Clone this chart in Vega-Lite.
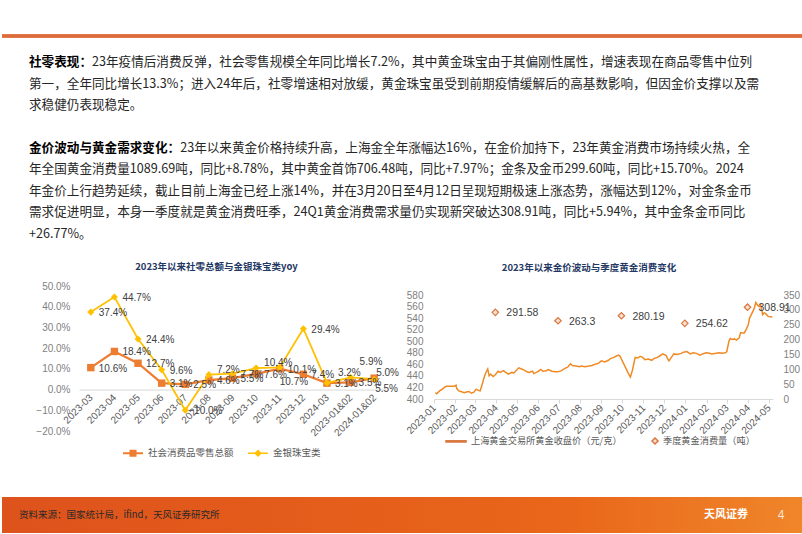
{
  "$schema": "https://vega.github.io/schema/vega-lite/v6.json",
  "background": "white",
  "padding": 0,
  "bounds": "flush",
  "spacing": 0,
  "config": {"view": {"stroke": null}, "font": "Noto Sans CJK SC"},
  "vconcat": [
    {
      "width": 802,
      "height": 286,
      "data": {"values": [
        {"line": 0, "lead": "社零表现：", "body": "23年疫情后消费反弹，社会零售规模全年同比增长7.2%，其中黄金珠宝由于其偏刚性属性，增速表现在商品零售中位列"},
        {"line": 1, "lead": "", "body": "第一，全年同比增长13.3%；进入24年后，社零增速相对放缓，黄金珠宝虽受到前期疫情缓解后的高基数影响，但因金价支撑以及需"},
        {"line": 2, "lead": "", "body": "求稳健仍表现稳定。"},
        {"line": 4, "lead": "金价波动与黄金需求变化：", "body": "23年以来黄金价格持续升高，上海金全年涨幅达16%，在金价加持下，23年黄金消费市场持续火热，全"},
        {"line": 5, "lead": "", "body": "年全国黄金消费量1089.69吨，同比+8.78%，其中黄金首饰706.48吨，同比+7.97%；金条及金币299.60吨，同比+15.70%。2024"},
        {"line": 6, "lead": "", "body": "年金价上行趋势延续，截止目前上海金已经上涨14%，并在3月20日至4月12日呈现短期极速上涨态势，涨幅达到12%，对金条金币"},
        {"line": 7, "lead": "", "body": "需求促进明显，本身一季度就是黄金消费旺季，24Q1黄金消费需求量仍实现新突破达308.91吨，同比+5.94%，其中金条金币同比"},
        {"line": 8, "lead": "", "body": "+26.77%。"}
      ]},
      "encoding": {
        "x": {"datum": 0, "type": "quantitative", "scale": {"domain": [0, 1]}, "axis": null},
        "y": {"field": "line", "type": "quantitative", "scale": {"domain": [-2.884, 10.419], "reverse": true, "nice": false, "zero": false}, "axis": null}
      },
      "layer": [
        {
          "mark": {"type": "rule", "color": "#DD6B3B", "strokeWidth": 2.5},
          "encoding": {
            "x": null,
            "y": {"datum": -1.21, "type": "quantitative", "scale": {"domain": [-2.884, 10.419], "reverse": true, "nice": false, "zero": false}, "axis": null}
          }
        },
        {
          "transform": [{"filter": "datum.lead == ''"}],
          "mark": {"type": "text", "align": "left", "baseline": "middle", "font": "Noto Sans CJK SC", "fontSize": 12.6, "color": "#262626", "dx": 27},
          "encoding": {"text": {"field": "body"}}
        },
        {
          "transform": [{"filter": "datum.line == 0"}],
          "mark": {"type": "text", "align": "left", "baseline": "middle", "font": "Noto Sans CJK SC", "fontSize": 12.6, "color": "#262626", "dx": 90},
          "encoding": {"text": {"field": "body"}}
        },
        {
          "transform": [{"filter": "datum.line == 4"}],
          "mark": {"type": "text", "align": "left", "baseline": "middle", "font": "Noto Sans CJK SC", "fontSize": 12.6, "color": "#262626", "dx": 178.2},
          "encoding": {"text": {"field": "body"}}
        },
        {
          "transform": [{"filter": "datum.lead != ''"}],
          "mark": {"type": "text", "align": "left", "baseline": "middle", "font": "Noto Sans CJK SC", "fontSize": 12.6, "fontWeight": "bold", "color": "#000000", "dx": 27},
          "encoding": {"text": {"field": "lead"}}
        }
      ]
    },
    {
      "hconcat": [
        {"width": 77, "height": 194, "data": {"values": []}, "mark": "text"},
        {
          "width": 307,
          "height": 145,
          "title": {"text": "2023年以来社零总额与金银珠宝类yoy", "font": "Noto Sans CJK SC", "fontSize": 9.5, "fontWeight": "bold", "color": "#1F3864", "anchor": "middle", "frame": "group", "dx": -16, "offset": 10},
          "data": {"values": [
            {"month": "2023-03", "series": "社会消费品零售总额", "value": 10.6},
            {"month": "2023-04", "series": "社会消费品零售总额", "value": 18.4},
            {"month": "2023-05", "series": "社会消费品零售总额", "value": 12.7},
            {"month": "2023-06", "series": "社会消费品零售总额", "value": 3.1},
            {"month": "2023-07", "series": "社会消费品零售总额", "value": 2.5},
            {"month": "2023-08", "series": "社会消费品零售总额", "value": 4.6},
            {"month": "2023-09", "series": "社会消费品零售总额", "value": 5.5},
            {"month": "2023-10", "series": "社会消费品零售总额", "value": 7.6},
            {"month": "2023-11", "series": "社会消费品零售总额", "value": 10.1},
            {"month": "2023-12", "series": "社会消费品零售总额", "value": 7.4},
            {"month": "2024-03", "series": "社会消费品零售总额", "value": 3.1},
            {"month": "2023-01&02", "series": "社会消费品零售总额", "value": 3.5},
            {"month": "2024-01&02", "series": "社会消费品零售总额", "value": 5.5},
            {"month": "2023-03", "series": "金银珠宝类", "value": 37.4},
            {"month": "2023-04", "series": "金银珠宝类", "value": 44.7},
            {"month": "2023-05", "series": "金银珠宝类", "value": 24.4},
            {"month": "2023-06", "series": "金银珠宝类", "value": 9.6},
            {"month": "2023-07", "series": "金银珠宝类", "value": -10.0},
            {"month": "2023-08", "series": "金银珠宝类", "value": 7.2},
            {"month": "2023-09", "series": "金银珠宝类", "value": 7.7},
            {"month": "2023-10", "series": "金银珠宝类", "value": 10.4},
            {"month": "2023-11", "series": "金银珠宝类", "value": 10.7},
            {"month": "2023-12", "series": "金银珠宝类", "value": 29.4},
            {"month": "2024-03", "series": "金银珠宝类", "value": 3.2},
            {"month": "2023-01&02", "series": "金银珠宝类", "value": 5.9},
            {"month": "2024-01&02", "series": "金银珠宝类", "value": 5.0}
          ]},
          "transform": [{"calculate": "format(datum.value, '.1f') + '%'", "as": "label"}],
          "encoding": {
            "x": {
              "field": "month", "type": "ordinal",
              "sort": ["2023-03","2023-04","2023-05","2023-06","2023-07","2023-08","2023-09","2023-10","2023-11","2023-12","2024-03","2023-01&02","2024-01&02"],
              "scale": {"type": "point", "padding": 0.5},
              "axis": {"title": null, "offset": -41.43, "labelAngle": -45, "labelAlign": "right", "labelBaseline": "middle", "labelPadding": 6, "ticks": false, "domainColor": "#d9d9d9", "domainWidth": 1, "labelColor": "#595959", "labelFont": "Liberation Sans", "labelFontSize": 10, "grid": false}
            },
            "y": {
              "field": "value", "type": "quantitative",
              "scale": {"domain": [-20, 50], "nice": false, "zero": false},
              "axis": {"title": null, "values": [-20, -10, 0, 10, 20, 30, 40, 50], "labelExpr": "format(datum.value, '.1f') + '%'", "domain": false, "ticks": false, "grid": false, "labelPadding": 9, "labelColor": "#7f7f7f", "labelFont": "Liberation Sans", "labelFontSize": 10}
            }
          },
          "layer": [
            {
              "transform": [{"filter": "datum.series == '社会消费品零售总额'"}],
              "mark": {"type": "line", "color": "#ED7D31", "strokeWidth": 2.25}
            },
            {
              "transform": [{"filter": "datum.series == '社会消费品零售总额'"}],
              "mark": {"type": "square", "color": "#ED7D31", "size": 55, "opacity": 1}
            },
            {
              "transform": [{"filter": "datum.series == '金银珠宝类'"}],
              "mark": {"type": "line", "color": "#FFC000", "strokeWidth": 1.75}
            },
            {
              "transform": [{"filter": "datum.series == '金银珠宝类'"}],
              "mark": {"type": "point", "shape": "diamond", "filled": true, "color": "#FFC000", "size": 50, "opacity": 1}
            },
            {
              "transform": [{"filter": "false"}],
              "mark": {"type": "point", "filled": true, "opacity": 1},
              "encoding": {
                "color": {"field": "series", "type": "nominal", "scale": {"domain": ["社会消费品零售总额", "金银珠宝类"], "range": ["#ED7D31", "#FFC000"]},
                  "legend": {"orient": "none", "legendX": 43, "legendY": 156, "direction": "horizontal", "title": null, "labelFont": "Noto Sans CJK SC", "labelFontSize": 9.5, "labelColor": "#595959", "symbolSize": 400, "labelOffset": 4, "columnPadding": 13}},
                "shape": {"field": "series", "type": "nominal", "scale": {"domain": ["社会消费品零售总额", "金银珠宝类"], "range": ["M-1,-0.1H1V0.1H-1Z M-0.35,-0.35H0.35V0.35H-0.35Z", "M-1,-0.08H1V0.08H-1Z M0,-0.38L0.38,0L0,0.38L-0.38,0Z"]},
                  "legend": {"orient": "none", "legendX": 43, "legendY": 156, "direction": "horizontal", "title": null, "labelFont": "Noto Sans CJK SC", "labelFontSize": 9.5, "labelColor": "#595959", "symbolSize": 400, "labelOffset": 4, "columnPadding": 13}}
              }
            },
            {
              "transform": [{"filter": "datum.series == '社会消费品零售总额' && datum.month != '2024-01&02'"}],
              "mark": {"type": "text", "align": "left", "baseline": "middle", "dx": 8, "dy": 1, "font": "Liberation Sans", "fontSize": 10, "color": "#404040"},
              "encoding": {"text": {"field": "label"}}
            },
            {
              "transform": [{"filter": "datum.series == '社会消费品零售总额' && datum.month == '2024-01&02'"}],
              "mark": {"type": "text", "align": "left", "baseline": "middle", "dx": 1, "dy": 11, "font": "Liberation Sans", "fontSize": 10, "color": "#404040"},
              "encoding": {"text": {"field": "label"}}
            },
            {
              "transform": [{"filter": "datum.series == '金银珠宝类' && indexof(['2023-03','2023-04','2023-05','2023-06','2023-09','2023-12'], datum.month) >= 0"}],
              "mark": {"type": "text", "align": "left", "baseline": "middle", "dx": 8, "dy": 1, "font": "Liberation Sans", "fontSize": 10, "color": "#404040"},
              "encoding": {"text": {"field": "label"}}
            },
            {
              "transform": [{"filter": "datum.series == '金银珠宝类' && indexof(['2023-08','2023-10'], datum.month) >= 0"}],
              "mark": {"type": "text", "align": "left", "baseline": "middle", "dx": 8, "dy": -5, "font": "Liberation Sans", "fontSize": 10, "color": "#404040"},
              "encoding": {"text": {"field": "label"}}
            },
            {
              "transform": [{"filter": "datum.series == '金银珠宝类' && datum.month == '2023-07'"}],
              "mark": {"type": "text", "align": "left", "baseline": "middle", "dx": 3, "dy": 1, "font": "Liberation Sans", "fontSize": 10, "color": "#404040"},
              "encoding": {"text": {"field": "label"}}
            },
            {
              "transform": [{"filter": "datum.series == '金银珠宝类' && datum.month == '2023-11'"}],
              "mark": {"type": "text", "align": "left", "baseline": "middle", "dx": 0, "dy": 15, "font": "Liberation Sans", "fontSize": 10, "color": "#404040"},
              "encoding": {"text": {"field": "label"}}
            },
            {
              "transform": [{"filter": "datum.series == '金银珠宝类' && datum.month == '2024-03'"}],
              "mark": {"type": "text", "align": "left", "baseline": "middle", "dx": 11, "dy": -10, "font": "Liberation Sans", "fontSize": 10, "color": "#404040"},
              "encoding": {"text": {"field": "label"}}
            },
            {
              "transform": [{"filter": "datum.series == '金银珠宝类' && datum.month == '2023-01&02'"}],
              "mark": {"type": "text", "align": "left", "baseline": "middle", "dx": 9, "dy": -15, "font": "Liberation Sans", "fontSize": 10, "color": "#404040"},
              "encoding": {"text": {"field": "label"}}
            },
            {
              "transform": [{"filter": "datum.series == '金银珠宝类' && datum.month == '2024-01&02'"}],
              "mark": {"type": "text", "align": "left", "baseline": "middle", "dx": 2, "dy": -6, "font": "Liberation Sans", "fontSize": 10, "color": "#404040"},
              "encoding": {"text": {"field": "label"}}
            }
          ]
        },
        {"width": 48, "height": 10, "data": {"values": []}, "mark": "text"},
        {
          "vconcat": [
            {"width": 339, "height": 9, "data": {"values": []}, "mark": "text"},
            {
              "width": 339,
              "height": 104,
              "title": {"text": "2023年以来金价波动与季度黄金消费变化", "font": "Noto Sans CJK SC", "fontSize": 9.5, "fontWeight": "bold", "color": "#1F3864", "anchor": "middle", "frame": "group", "dx": -14.5, "offset": 18},
              "encoding": {
                "x": {
                  "field": "date", "type": "temporal",
                  "scale": {"domain": [{"year": 2023, "month": 1, "date": 1}, {"year": 2024, "month": 5, "date": 7}], "nice": false},
                  "axis": {"title": null, "format": "%Y-%m", "tickCount": {"interval": "month", "step": 1}, "labelAngle": -45, "labelAlign": "right", "labelBaseline": "middle", "labelPadding": 3, "tickSize": 4, "tickColor": "#d9d9d9", "domainColor": "#d9d9d9", "labelColor": "#595959", "labelFont": "Liberation Sans", "labelFontSize": 10, "grid": false, "labelOverlap": false, "labelFlush": false}
                }
              },
              "layer": [
                {
                  "data": {"values": [
                    {"date": "2023-01-03", "price": 411}, {"date": "2023-01-05", "price": 409}, {"date": "2023-01-09", "price": 414}, {"date": "2023-01-12", "price": 416},
                    {"date": "2023-01-16", "price": 420}, {"date": "2023-01-19", "price": 422}, {"date": "2023-01-30", "price": 422}, {"date": "2023-02-02", "price": 424},
                    {"date": "2023-02-03", "price": 418}, {"date": "2023-02-06", "price": 414}, {"date": "2023-02-09", "price": 413}, {"date": "2023-02-14", "price": 411},
                    {"date": "2023-02-17", "price": 412}, {"date": "2023-02-21", "price": 413}, {"date": "2023-02-24", "price": 410}, {"date": "2023-02-28", "price": 412},
                    {"date": "2023-03-03", "price": 417}, {"date": "2023-03-06", "price": 415}, {"date": "2023-03-09", "price": 414}, {"date": "2023-03-13", "price": 430},
                    {"date": "2023-03-15", "price": 438}, {"date": "2023-03-17", "price": 445}, {"date": "2023-03-20", "price": 452}, {"date": "2023-03-22", "price": 440},
                    {"date": "2023-03-24", "price": 443}, {"date": "2023-03-28", "price": 439}, {"date": "2023-03-31", "price": 442}, {"date": "2023-04-04", "price": 448},
                    {"date": "2023-04-07", "price": 446}, {"date": "2023-04-12", "price": 449}, {"date": "2023-04-14", "price": 447}, {"date": "2023-04-19", "price": 443},
                    {"date": "2023-04-24", "price": 446}, {"date": "2023-04-27", "price": 445}, {"date": "2023-05-04", "price": 454}, {"date": "2023-05-08", "price": 452},
                    {"date": "2023-05-12", "price": 450}, {"date": "2023-05-16", "price": 447}, {"date": "2023-05-19", "price": 446}, {"date": "2023-05-24", "price": 448},
                    {"date": "2023-05-26", "price": 444}, {"date": "2023-05-31", "price": 447}, {"date": "2023-06-05", "price": 451}, {"date": "2023-06-08", "price": 448},
                    {"date": "2023-06-13", "price": 449}, {"date": "2023-06-16", "price": 451}, {"date": "2023-06-21", "price": 448}, {"date": "2023-06-26", "price": 447},
                    {"date": "2023-06-30", "price": 447}, {"date": "2023-07-05", "price": 449}, {"date": "2023-07-10", "price": 453}, {"date": "2023-07-14", "price": 455},
                    {"date": "2023-07-18", "price": 461}, {"date": "2023-07-21", "price": 458}, {"date": "2023-07-26", "price": 457}, {"date": "2023-07-31", "price": 456},
                    {"date": "2023-08-03", "price": 457}, {"date": "2023-08-08", "price": 456}, {"date": "2023-08-14", "price": 457}, {"date": "2023-08-18", "price": 458},
                    {"date": "2023-08-23", "price": 460}, {"date": "2023-08-28", "price": 462}, {"date": "2023-09-01", "price": 466}, {"date": "2023-09-06", "price": 464},
                    {"date": "2023-09-11", "price": 467}, {"date": "2023-09-14", "price": 470}, {"date": "2023-09-19", "price": 472}, {"date": "2023-09-22", "price": 474},
                    {"date": "2023-09-26", "price": 476}, {"date": "2023-09-28", "price": 474}, {"date": "2023-10-09", "price": 447}, {"date": "2023-10-11", "price": 442},
                    {"date": "2023-10-13", "price": 438}, {"date": "2023-10-16", "price": 450}, {"date": "2023-10-18", "price": 461}, {"date": "2023-10-20", "price": 472},
                    {"date": "2023-10-24", "price": 471}, {"date": "2023-10-27", "price": 474}, {"date": "2023-10-31", "price": 472}, {"date": "2023-11-03", "price": 468},
                    {"date": "2023-11-08", "price": 469}, {"date": "2023-11-13", "price": 467}, {"date": "2023-11-16", "price": 470}, {"date": "2023-11-21", "price": 472},
                    {"date": "2023-11-24", "price": 474}, {"date": "2023-11-29", "price": 478}, {"date": "2023-12-04", "price": 475}, {"date": "2023-12-06", "price": 470},
                    {"date": "2023-12-08", "price": 466}, {"date": "2023-12-12", "price": 473}, {"date": "2023-12-15", "price": 478}, {"date": "2023-12-20", "price": 477},
                    {"date": "2023-12-26", "price": 479}, {"date": "2023-12-29", "price": 481}, {"date": "2024-01-03", "price": 482}, {"date": "2024-01-08", "price": 478},
                    {"date": "2024-01-12", "price": 480}, {"date": "2024-01-17", "price": 479}, {"date": "2024-01-22", "price": 476}, {"date": "2024-01-26", "price": 478},
                    {"date": "2024-01-31", "price": 480}, {"date": "2024-02-05", "price": 479}, {"date": "2024-02-08", "price": 478}, {"date": "2024-02-19", "price": 480},
                    {"date": "2024-02-23", "price": 479}, {"date": "2024-02-28", "price": 480}, {"date": "2024-03-01", "price": 482}, {"date": "2024-03-04", "price": 500},
                    {"date": "2024-03-06", "price": 505}, {"date": "2024-03-08", "price": 503}, {"date": "2024-03-12", "price": 504}, {"date": "2024-03-15", "price": 502},
                    {"date": "2024-03-19", "price": 506}, {"date": "2024-03-21", "price": 515}, {"date": "2024-03-26", "price": 514}, {"date": "2024-03-29", "price": 520},
                    {"date": "2024-04-01", "price": 528}, {"date": "2024-04-03", "price": 540}, {"date": "2024-04-08", "price": 552}, {"date": "2024-04-10", "price": 558},
                    {"date": "2024-04-12", "price": 567}, {"date": "2024-04-15", "price": 562}, {"date": "2024-04-17", "price": 560}, {"date": "2024-04-19", "price": 563},
                    {"date": "2024-04-22", "price": 546}, {"date": "2024-04-24", "price": 549}, {"date": "2024-04-26", "price": 548}, {"date": "2024-04-30", "price": 543},
                    {"date": "2024-05-06", "price": 542}
                  ]},
                  "mark": {"type": "line", "color": "#F08A24", "strokeWidth": 1.5},
                  "encoding": {
                    "y": {"field": "price", "type": "quantitative", "scale": {"domain": [400, 580], "nice": false, "zero": false},
                      "axis": {"title": null, "orient": "left", "values": [400, 420, 440, 460, 480, 500, 520, 540, 560, 580], "domain": false, "ticks": false, "grid": false, "labelPadding": 11, "labelColor": "#7f7f7f", "labelFont": "Liberation Sans", "labelFontSize": 10}}
                  }
                },
                {
                  "data": {"values": [
                    {"date": "2023-03-31", "tons": 291.58, "series": "季度黄金消费量（吨）"},
                    {"date": "2023-06-30", "tons": 263.3, "series": "季度黄金消费量（吨）"},
                    {"date": "2023-09-30", "tons": 280.19, "series": "季度黄金消费量（吨）"},
                    {"date": "2023-12-31", "tons": 254.62, "series": "季度黄金消费量（吨）"},
                    {"date": "2024-03-31", "tons": 308.91, "series": "季度黄金消费量（吨）"}
                  ]},
                  "encoding": {
                    "y": {"field": "tons", "type": "quantitative", "scale": {"domain": [0, 350], "nice": false},
                      "axis": {"title": null, "orient": "right", "values": [0, 50, 100, 150, 200, 250, 300, 350], "domain": false, "ticks": false, "grid": false, "labelPadding": 10, "labelColor": "#7f7f7f", "labelFont": "Liberation Sans", "labelFontSize": 10}}
                  },
                  "layer": [
                    {
                      "mark": {"type": "point", "shape": "diamond", "filled": true, "size": 42, "fill": "#FBE1D1", "stroke": "#D9763F", "strokeWidth": 1.2, "opacity": 1}
                    },
                    {
                      "mark": {"type": "text", "align": "left", "baseline": "middle", "dx": 11, "dy": 1, "font": "Liberation Sans", "fontSize": 10.5, "color": "#404040"},
                      "encoding": {"text": {"field": "tons", "type": "nominal"}}
                    },
                    {
                      "transform": [{"filter": "false"}],
                      "mark": {"type": "point", "filled": true, "opacity": 1, "stroke": "#D9763F", "strokeWidth": 1},
                      "encoding": {
                        "color": {"field": "series", "type": "nominal", "scale": {"domain": ["上海黄金交易所黄金收盘价（元/克）", "季度黄金消费量（吨）"], "range": ["#F08A24", "#FBE1D1"]},
                          "legend": {"orient": "none", "legendX": 11, "legendY": 144, "direction": "horizontal", "title": null, "labelFont": "Noto Sans CJK SC", "labelFontSize": 9.2, "labelColor": "#595959", "symbolSize": 400, "labelOffset": 4, "columnPadding": 15}},
                        "shape": {"field": "series", "type": "nominal", "scale": {"domain": ["上海黄金交易所黄金收盘价（元/克）", "季度黄金消费量（吨）"], "range": ["M-1,-0.06H1V0.06H-1Z", "M0.7,-0.3L1,0L0.7,0.3L0.4,0Z"]},
                          "legend": {"orient": "none", "legendX": 11, "legendY": 144, "direction": "horizontal", "title": null, "labelFont": "Noto Sans CJK SC", "labelFontSize": 9.2, "labelColor": "#595959", "symbolSize": 400, "labelOffset": 4, "columnPadding": 15}}
                      }
                    }
                  ]
                }
              ],
              "resolve": {"scale": {"y": "independent"}}
            }
          ],
          "bounds": "flush",
          "spacing": 0
        },
        {"width": 31, "height": 10, "data": {"values": []}, "mark": "text"}
      ],
      "bounds": "flush",
      "spacing": 0,
      "resolve": {"scale": {"color": "independent", "shape": "independent"}, "legend": {"color": "independent", "shape": "independent"}}
    },
    {"width": 802, "height": 211, "data": {"values": []}, "mark": "text"},
    {
      "width": 802,
      "height": 36,
      "view": {"fill": {"gradient": "linear", "x1": 0, "y1": 0, "x2": 1, "y2": 0, "stops": [{"offset": 0, "color": "#DE521C"}, {"offset": 0.7, "color": "#E9661A"}, {"offset": 1, "color": "#F0862A"}]}},
      "encoding": {"x": {"datum": 0, "type": "quantitative", "scale": {"domain": [0, 1]}, "axis": null}},
      "layer": [
        {
          "data": {"values": [{"t": "资料来源：国家统计局，ifind，天风证券研究所"}]},
          "mark": {"type": "text", "align": "left", "baseline": "middle", "dx": 17, "font": "Noto Sans CJK SC", "fontSize": 9.5, "color": "#2a2a2a"},
          "encoding": {"text": {"field": "t"}}
        },
        {
          "data": {"values": [{"t": "天风证券"}]},
          "mark": {"type": "text", "align": "left", "baseline": "middle", "dx": -100, "font": "Noto Sans CJK SC", "fontSize": 11, "fontWeight": "bold", "color": "#ffffff"},
          "encoding": {"x": {"datum": 1, "type": "quantitative", "scale": {"domain": [0, 1]}, "axis": null}, "text": {"field": "t"}}
        },
        {
          "data": {"values": [{"t": "4"}]},
          "mark": {"type": "text", "align": "center", "baseline": "middle", "dx": -23, "font": "Liberation Sans", "fontSize": 12, "color": "#FCE4D6"},
          "encoding": {"x": {"datum": 1, "type": "quantitative", "scale": {"domain": [0, 1]}, "axis": null}, "text": {"field": "t"}}
        }
      ]
    },
    {"width": 802, "height": 1, "data": {"values": []}, "mark": "text"}
  ]
}
